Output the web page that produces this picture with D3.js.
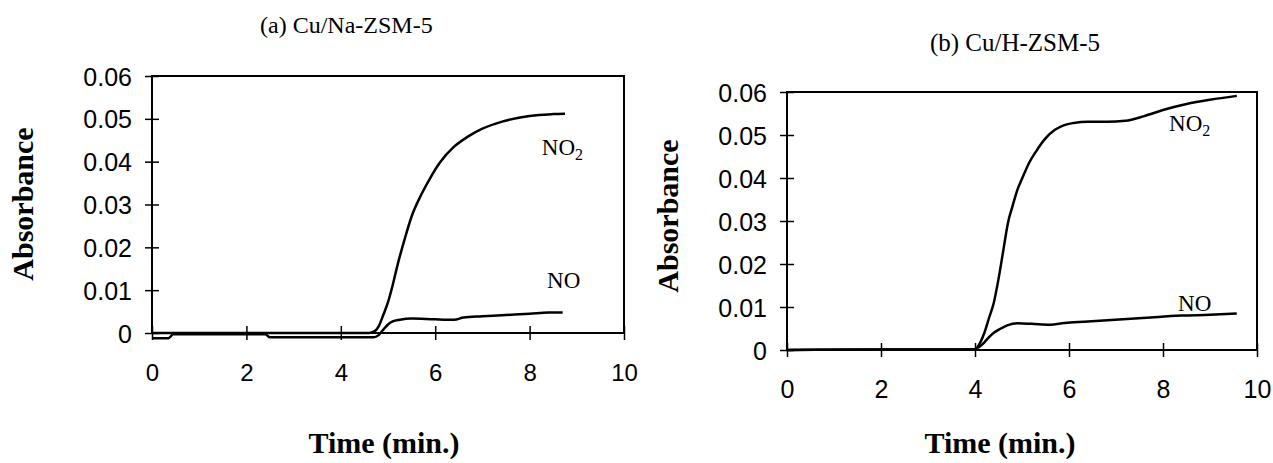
<!DOCTYPE html>
<html>
<head>
<meta charset="utf-8">
<script src="https://d3js.org/d3.v7.min.js"></script>
<style>
  body { margin: 0; background: #fff; }
  svg { display: block; }
</style>
</head>
<body>
<svg id="chart" width="1273" height="463"></svg>
<script>
// axis ticks
const xTicks = [0, 2, 4, 6, 8, 10];
const yTicks = [0, 0.01, 0.02, 0.03, 0.04, 0.05, 0.06];

// (a) Cu/Na-ZSM-5, [time (min), absorbance]
const naNO2 = [[0, 0], [1, 0], [2, 0], [3, 0], [4, 0], [4.6, 0], [4.7, 0.0003], [4.8, 0.0015],
  [4.9, 0.0042], [5.0, 0.0072], [5.1, 0.0112], [5.2, 0.0158], [5.35, 0.0218], [5.5, 0.0272],
  [5.7, 0.0322], [5.9, 0.0363], [6.1, 0.0398], [6.4, 0.0435], [6.7, 0.0459], [7.0, 0.0477],
  [7.4, 0.0493], [7.8, 0.0503], [8.2, 0.0509], [8.5, 0.0511], [8.75, 0.0512]];
const naNO = [[0, -0.0012], [0.35, -0.0012], [0.45, -0.0003], [1.5, -0.0003], [2.4, -0.0003],
  [2.5, -0.001], [3.5, -0.001], [4.7, -0.001], [4.8, -0.0005], [4.9, 0.0008], [5.0, 0.002],
  [5.1, 0.0027], [5.25, 0.0031], [5.5, 0.0034], [6.0, 0.0032], [6.4, 0.0031], [6.6, 0.0036],
  [7.0, 0.0039], [7.5, 0.0042], [8.0, 0.0045], [8.4, 0.0048], [8.7, 0.0048]];

// (b) Cu/H-ZSM-5
const hNO2 = [[0, 0], [2, 0.0001], [3.5, 0.0001], [4.0, 0.0002], [4.1, 0.0015], [4.2, 0.004],
  [4.3, 0.0075], [4.4, 0.011], [4.5, 0.0165], [4.6, 0.023], [4.7, 0.0295], [4.8, 0.0335],
  [4.9, 0.0372], [5.0, 0.0398], [5.15, 0.0435], [5.3, 0.0462], [5.5, 0.0492], [5.7, 0.0512],
  [5.9, 0.0523], [6.1, 0.0528], [6.4, 0.0531], [6.8, 0.0531], [7.2, 0.0533], [7.6, 0.0544],
  [8.0, 0.0558], [8.5, 0.0572], [9.0, 0.0582], [9.57, 0.0591]];
const hNO = [[0, 0], [2, 0.0001], [3.5, 0.0001], [4.0, 0.0002], [4.1, 0.0008], [4.2, 0.0018],
  [4.3, 0.003], [4.4, 0.004], [4.55, 0.005], [4.7, 0.0058], [4.9, 0.0062], [5.2, 0.0061],
  [5.6, 0.0059], [5.9, 0.0063], [6.4, 0.0066], [6.9, 0.007], [7.4, 0.0073], [7.9, 0.0077],
  [8.4, 0.008], [9.0, 0.0082], [9.57, 0.0085]];

const panels = [
  {
    title: '(a) Cu/Na-ZSM-5', titleX: 260, titleY: 33, titleAnchor: 'start', titleFont: 24,
    left: 152, right: 624, top: 76, bottom: 333,
    xLabelX: 384, yLabelX: 33, yLabelY: 204, tickFont: 24,
    series: [naNO2, naNO],
    labels: [{ text: 'NO', sub: '2', t: 8.26, a: 0.0415 }, { text: 'NO', sub: '', t: 8.37, a: 0.0105 }]
  },
  {
    title: '(b) Cu/H-ZSM-5', titleX: 1015, titleY: 51, titleAnchor: 'middle', titleFont: 25,
    left: 787, right: 1257, top: 92, bottom: 350,
    xLabelX: 1000, yLabelX: 678, yLabelY: 216, tickFont: 25,
    series: [hNO2, hNO],
    labels: [{ text: 'NO', sub: '2', t: 8.13, a: 0.0509 }, { text: 'NO', sub: '', t: 8.32, a: 0.0091 }]
  }
];

const svg = d3.select('#chart');
const serif = "'Liberation Serif', 'Times New Roman', serif";
const sans = "'Liberation Sans', Arial, sans-serif";
const fmtY = d => (d === 0 ? '0' : d3.format('.2f')(d));

panels.forEach((p) => {
  const x = d3.scaleLinear().domain([0, 10]).range([p.left, p.right]);
  const y = d3.scaleLinear().domain([0, 0.06]).range([p.bottom, p.top]);
  const g = svg.append('g');

  g.append('text')
    .attr('x', p.titleX)
    .attr('y', p.titleY)
    .attr('text-anchor', p.titleAnchor)
    .attr('font-family', serif)
    .attr('font-size', p.titleFont)
    .text(p.title);

  // plot frame
  g.append('rect')
    .attr('x', p.left)
    .attr('y', p.top)
    .attr('width', p.right - p.left)
    .attr('height', p.bottom - p.top)
    .attr('fill', 'none')
    .attr('stroke', '#000')
    .attr('stroke-width', 2);

  const yAxis = g.append('g')
    .attr('transform', `translate(${p.left},0)`)
    .call(d3.axisLeft(y).tickValues(yTicks).tickSize(7).tickFormat(fmtY))
    .attr('font-family', sans)
    .attr('font-size', 25);
  yAxis.select('.domain').remove();
  yAxis.selectAll('.tick line').attr('x1', 7).attr('x2', -7).attr('stroke-width', 1.5);
  yAxis.selectAll('.tick text').attr('x', -20).attr('dy', '0.36em').attr('fill', '#000');

  const xAxis = g.append('g')
    .attr('transform', `translate(0,${p.bottom})`)
    .call(d3.axisBottom(x).tickValues(xTicks).tickSize(7).tickFormat(d3.format('d')))
    .attr('font-family', sans)
    .attr('font-size', p.tickFont);
  xAxis.select('.domain').remove();
  xAxis.selectAll('.tick line').attr('y1', -7).attr('y2', 7).attr('stroke-width', 1.5);
  xAxis.selectAll('.tick text').attr('y', 48).attr('dy', 0).attr('fill', '#000');

  const line = d3.line()
    .x(d => x(d[0]))
    .y(d => y(d[1]))
    .curve(d3.curveMonotoneX);

  p.series.forEach((s) => {
    g.append('path')
      .attr('d', line(s))
      .attr('fill', 'none')
      .attr('stroke', '#000')
      .attr('stroke-width', 2.5)
      .attr('stroke-linejoin', 'round');
  });

  p.labels.forEach((l) => {
    const t = g.append('text')
      .attr('x', x(l.t))
      .attr('y', y(l.a))
      .attr('font-family', serif)
      .attr('font-size', 23)
      .text(l.text);
    if (l.sub) {
      t.append('tspan')
        .attr('font-size', 16)
        .attr('dy', 5)
        .text(l.sub);
    }
  });

  g.append('text')
    .attr('x', p.xLabelX)
    .attr('y', 453)
    .attr('text-anchor', 'middle')
    .attr('font-family', serif)
    .attr('font-weight', 'bold')
    .attr('font-size', 30)
    .text('Time (min.)');

  g.append('text')
    .attr('transform', `translate(${p.yLabelX},${p.yLabelY}) rotate(-90)`)
    .attr('text-anchor', 'middle')
    .attr('font-family', serif)
    .attr('font-weight', 'bold')
    .attr('font-size', 30)
    .text('Absorbance');
});
</script>
</body>
</html>
